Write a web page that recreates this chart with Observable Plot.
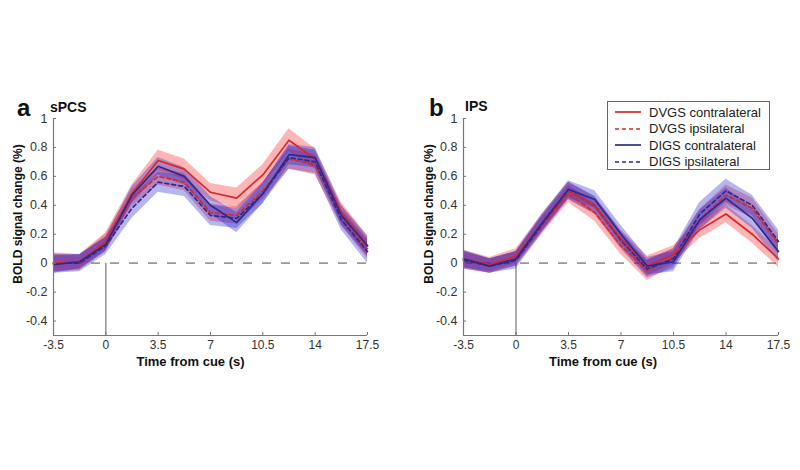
<!DOCTYPE html>
<html><head><meta charset="utf-8">
<script src="https://cdn.jsdelivr.net/npm/d3@7"></script>
<script src="https://cdn.jsdelivr.net/npm/@observablehq/plot@0.6"></script>
<style>
body{margin:0;background:#fff;font-family:"Liberation Sans",Arial,sans-serif;}
#wrap{position:relative;width:800px;height:470px;overflow:hidden;background:#fff}
.panel{position:absolute;top:0}
.lbl{position:absolute;font-weight:bold;color:#111;white-space:nowrap}
#legend{position:absolute;left:607px;top:101px;width:163px;height:69px;border:1px solid #666;background:#fff;font-size:13px;color:#222;box-sizing:border-box;padding-top:2px}
#legend .row{display:flex;align-items:center;height:16.5px}
#legend svg{margin-left:7px;margin-right:8px}
</style></head><body><div id="wrap"></div>
<script>
// time from cue (s)
const time = [-3.5,-1.75,0,1.75,3.5,5.25,7,8.75,10.5,12.25,14,15.75,17.5];
const xTicks = [-3.5,0,3.5,7,10.5,14,17.5];
const yTicks = [-0.4,-0.2,0,0.2,0.4,0.6,0.8,1];
const yDomain = [-0.5,1];
const cueTime = 0;
const baseline = 0;
const seriesNames = ["DVGS contralateral","DVGS ipsilateral","DIGS contralateral","DIGS ipsilateral"];
const lineColors = ["#d42a2a","#d42a2a","#2b2b8c","#2b2b8c"];
const bandColors = ["#ff1a1a","#ff1a1a","#1a1acc","#1a1acc"];
const lineDash = [null,"4,3",null,"4,3"];

// panel a: sPCS
const aDVGSc = [0.00,0.01,0.15,0.48,0.71,0.65,0.49,0.45,0.61,0.85,0.72,0.35,0.12];
const aDVGSi = [0.00,0.00,0.14,0.45,0.60,0.56,0.35,0.33,0.50,0.72,0.68,0.33,0.10];
const aDIGSc = [-0.01,0.01,0.13,0.47,0.67,0.60,0.40,0.28,0.48,0.75,0.73,0.33,0.12];
const aDIGSi = [0.00,0.00,0.12,0.38,0.56,0.53,0.33,0.31,0.48,0.73,0.70,0.30,0.08];
const aSemDVGSc = [0.06,0.05,0.06,0.06,0.07,0.07,0.06,0.07,0.07,0.08,0.07,0.07,0.07];
const aSemDVGSi = [0.06,0.05,0.06,0.06,0.06,0.06,0.06,0.06,0.06,0.07,0.07,0.07,0.07];
const aSemDIGSc = [0.06,0.05,0.05,0.06,0.06,0.06,0.06,0.07,0.07,0.07,0.07,0.07,0.07];
const aSemDIGSi = [0.07,0.06,0.06,0.07,0.07,0.07,0.07,0.07,0.07,0.08,0.08,0.07,0.08];

// panel b: IPS
const bDVGSc = [0.03,-0.01,0.05,0.28,0.50,0.40,0.17,-0.02,0.06,0.23,0.34,0.20,0.03];
const bDVGSi = [0.02,-0.02,0.03,0.26,0.48,0.35,0.12,-0.05,0.04,0.30,0.47,0.38,0.13];
const bDIGSc = [0.03,-0.02,0.03,0.28,0.51,0.44,0.20,-0.02,0.01,0.30,0.45,0.31,0.08];
const bDIGSi = [0.02,-0.02,0.02,0.27,0.50,0.40,0.16,-0.04,0.03,0.34,0.50,0.40,0.15];
const bSemDVGSc = [0.06,0.05,0.05,0.06,0.06,0.06,0.06,0.07,0.06,0.06,0.06,0.06,0.06];
const bSemDVGSi = [0.06,0.05,0.05,0.06,0.06,0.06,0.06,0.07,0.06,0.07,0.07,0.07,0.07];
const bSemDIGSc = [0.06,0.05,0.05,0.06,0.06,0.06,0.06,0.06,0.07,0.07,0.07,0.07,0.07];
const bSemDIGSi = [0.06,0.05,0.06,0.06,0.06,0.06,0.06,0.06,0.07,0.08,0.08,0.07,0.08];

const fmt = d => (Math.round(d*10)/10).toString();
const font = '"Liberation Sans",Arial,sans-serif';

function panel(vals, sems, cfg) {
  const rows = [];
  vals.forEach((arr, i) => time.forEach((t, j) => rows.push({
    i, series: seriesNames[i], t, v: arr[j], lo: arr[j] - sems[i][j], hi: arr[j] + sems[i][j]
  })));
  const marks = [
    Plot.ruleY([baseline], {stroke: "#999", strokeWidth: 1.6, strokeDasharray: "9,10"}),
    Plot.ruleX([cueTime], {y1: yDomain[0], y2: baseline, stroke: "#777", strokeWidth: 1.2})
  ];
  [0,1,2,3].forEach(i => marks.push(Plot.areaY(rows.filter(r => r.i === i),
    {x: "t", y1: "lo", y2: "hi", fill: bandColors[i], fillOpacity: 0.32})));
  [1,3,0,2].forEach(i => marks.push(Plot.line(rows.filter(r => r.i === i),
    {x: "t", y: "v", stroke: lineColors[i], strokeWidth: 1.7, strokeDasharray: lineDash[i]})));
  marks.push(
    Plot.ruleX([xTicks[0]], {stroke: "#777", strokeWidth: 1.2}),
    Plot.ruleY([yDomain[0]], {stroke: "#777", strokeWidth: 1.2}),
    Plot.axisX({ticks: xTicks, tickFormat: fmt, tickSize: -3, tickPadding: 8, fontSize: 12, color: "#333", stroke: "#777", label: null}),
    Plot.axisY({ticks: yTicks, tickFormat: fmt, tickSize: -3, tickPadding: 9, fontSize: 12.5, color: "#333", stroke: "#777", label: null}),
    Plot.text(["Time from cue (s)"], {frameAnchor: "bottom", textAnchor: "middle", dx: cfg.xdx, dy: 26, lineAnchor: "middle", fontWeight: "bold", fontSize: 13, fill: "#111"}),
    Plot.text(["BOLD signal change (%)"], {frameAnchor: "left", textAnchor: "middle", rotate: -90, dx: cfg.ydx, dy: -13, lineAnchor: "middle", fontWeight: "bold", fontSize: 12, fill: "#111"})
  );
  return Plot.plot({
    width: 400, height: 470,
    marginLeft: cfg.ml, marginRight: cfg.mr, marginTop: 118, marginBottom: 135,
    x: {domain: [xTicks[0], xTicks[xTicks.length-1]]},
    y: {domain: yDomain},
    style: {fontFamily: font, background: "transparent", overflow: "visible"},
    marks
  });
}

const wrap = document.getElementById("wrap");
const pa = panel([aDVGSc,aDVGSi,aDIGSc,aDIGSi],[aSemDVGSc,aSemDVGSi,aSemDIGSc,aSemDIGSi],{ml:53, mr:33, xdx:-20, ydx:-35});
pa.classList.add("panel"); pa.style.left = "0px"; wrap.appendChild(pa);
const pb = panel([bDVGSc,bDVGSi,bDIGSc,bDIGSi],[bSemDVGSc,bSemDVGSi,bSemDIGSc,bSemDIGSi],{ml:63, mr:22, xdx:-18, ydx:-34});
pb.classList.add("panel"); pb.style.left = "400px"; wrap.appendChild(pb);

function label(text, left, top, size) {
  const s = document.createElement("div");
  s.className = "lbl"; s.textContent = text;
  s.style.left = left + "px"; s.style.top = top + "px";
  s.style.fontSize = size + "px"; s.style.lineHeight = size + "px";
  wrap.appendChild(s);
}
label("a", 17, 96, 24);
label("sPCS", 50, 100, 14);
label("b", 429, 96, 24);
label("IPS", 465, 99, 14);

const legend = document.createElement("div");
legend.id = "legend";
seriesNames.forEach((name, i) => {
  const row = document.createElement("div");
  row.className = "row";
  row.innerHTML = `<svg width="26" height="6"><line x1="0" x2="26" y1="3" y2="3" stroke="${lineColors[i]}" stroke-width="1.7" ${lineDash[i] ? `stroke-dasharray="${lineDash[i]}"` : ""}/></svg><span>${name}</span>`;
  legend.appendChild(row);
});
wrap.appendChild(legend);
</script></body></html>
